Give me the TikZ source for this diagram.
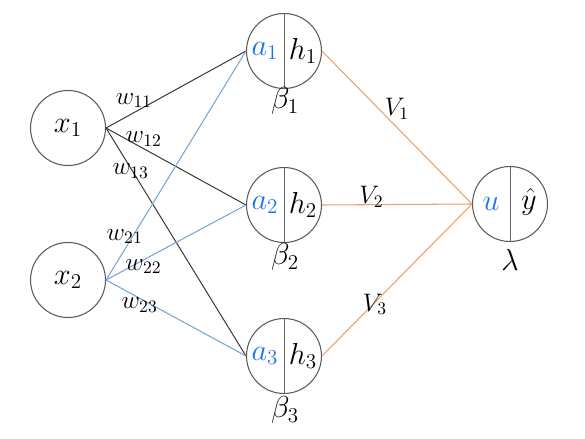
\documentclass[tikz,border=0pt]{standalone}
\usepackage{tikz}
\usetikzlibrary{positioning}
\definecolor{lblue}{RGB}{120,165,212}
\definecolor{lorange}{RGB}{234,160,108}
\definecolor{tblue}{RGB}{25,115,235}

\begin{document}
\begin{tikzpicture}[x=0.02cm,y=-0.02cm,
    neuron/.style={draw=black!65,circle,line width=0.6pt,minimum size=1.5cm,inner sep=0pt},
    split/.style={draw=black!60,line width=0.5pt},
    wlab/.style={font=\Large,text=black,inner sep=0pt}]
    \useasboundingbox (0,0) rectangle (585,439);

    % 输入层
    \node[neuron,font=\LARGE] (x1) at (68,128) {$x_1$};
    \node[neuron,font=\LARGE] (x2) at (68,280) {$x_2$};

    % 隐层
    \node[neuron] (h1) at (284,51) {};
    \node[neuron] (h2) at (284,205) {};
    \node[neuron] (h3) at (284,356) {};
    \draw[split] (h1.north) -- (h1.south);
    \draw[split] (h2.north) -- (h2.south);
    \draw[split] (h3.north) -- (h3.south);
    \node[font=\LARGE,text=tblue] (a1) at (265,51) {$a_1$};
    \node[font=\LARGE] (o1) at (303,51) {$h_1$};
    \node[font=\LARGE,text=tblue] (a2) at (265,205) {$a_2$};
    \node[font=\LARGE] (o2) at (303,205) {$h_2$};
    \node[font=\LARGE,text=tblue] (a3) at (265,356) {$a_3$};
    \node[font=\LARGE] (o3) at (303,356) {$h_3$};
    \node[font=\LARGE] (b1) at (285,101) {$\beta_1$};
    \node[font=\LARGE] (b2) at (285,257) {$\beta_2$};
    \node[font=\LARGE] (b3) at (285,410) {$\beta_3$};

    % 输出层
    \node[neuron] (y) at (510,204) {};
    \draw[split] (y.north) -- (y.south);
    \node[font=\LARGE,text=tblue] (u) at (491,204) {$u$};
    \node[font=\LARGE] (yhat) at (529,202) {$\hat{y}$};
    \node[font=\LARGE] (lam) at (510,260) {$\lambda$};

    % 输入层 -> 隐层
    \draw[black!80,line width=0.55pt] (x1.east) -- (h1.west) node[wlab,pos=0.2,shift={(0,-12)}] {$w_{11}$};
    \draw[black!80,line width=0.55pt] (x1.east) -- (h2.west) node[wlab,pos=0.27,shift={(0,-10)}] {$w_{12}$};
    \draw[black!80,line width=0.55pt] (x1.east) -- (h3.west) node[wlab,pos=0.19,shift={(-2,0)}] {$w_{13}$};
    \draw[lblue,line width=0.6pt] (x2.east) -- (h1.west) node[wlab,pos=0.19,shift={(-8,0)}] {$w_{21}$};
    \draw[lblue,line width=0.6pt] (x2.east) -- (h2.west) node[wlab,pos=0.26,shift={(1,6)}] {$w_{22}$};
    \draw[lblue,line width=0.6pt] (x2.east) -- (h3.west) node[wlab,pos=0.24,shift={(0,7)}] {$w_{23}$};

    % 隐层 -> 输出层
    \draw[lorange,line width=0.6pt] (h1.east) -- (y.west) node[wlab,pos=0.38,shift={(18,0)}] {$V_1$};
    \draw[lorange,line width=0.6pt] (h2.east) -- (y.west) node[wlab,pos=0.33,shift={(0,-8)}] {$V_2$};
    \draw[lorange,line width=0.6pt] (h3.east) -- (y.west) node[wlab,pos=0.34,shift={(2,0)}] {$V_3$};
\end{tikzpicture}
\end{document}
